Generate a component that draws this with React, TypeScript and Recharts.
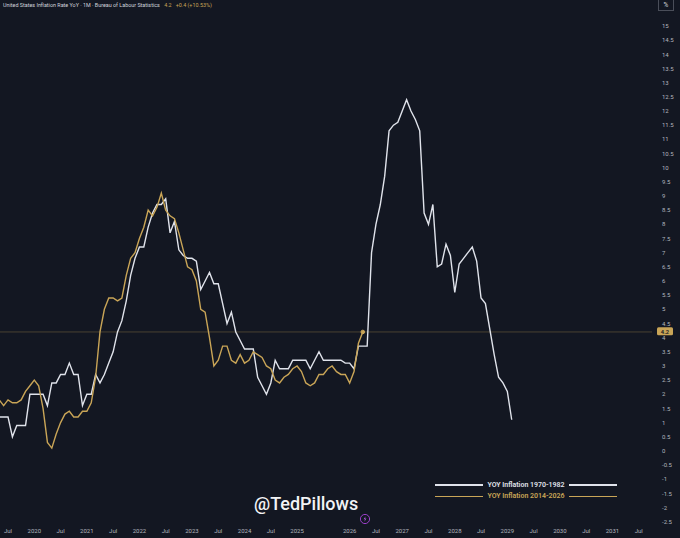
import React from 'react';
import { LineChart, Line, XAxis, YAxis, ReferenceLine, Legend } from 'recharts';

// months counted from Jul 2019 (0 = Jul 2019)
const firstMonth = -2;

const inflation1970to1982 = [
  1.2, 1.2, 1.2, 0.5, 0.9, 0.9, 0.9, 2.0, 2.0, 2.0, 2.0, 1.6,
  2.4, 2.4, 2.7, 2.7, 3.1, 2.7, 2.7, 1.6, 2.0, 2.0, 2.7, 2.4,
  2.7, 3.1, 3.5, 4.2, 4.6, 5.3, 6.2, 6.8, 7.2, 7.2, 7.9, 8.4,
  8.7, 8.7, 8.9, 7.7, 8.1, 7.1, 6.9, 6.8, 6.8, 6.7, 5.7, 6.0,
  6.3, 5.9, 5.9, 5.2, 4.5, 4.9, 4.2, 3.9, 3.6, 3.6, 3.6, 2.6,
  2.3, 2.0, 2.4, 3.2, 2.9, 2.9, 2.9, 3.2, 3.2, 3.2, 3.2, 2.9,
  3.2, 3.5, 3.2, 3.2, 3.2, 3.2, 3.2, 3.1, 3.1, 2.9, 3.7, 3.7,
  3.7, 7.0, 8.0, 8.7, 9.7, 11.3, 11.5, 11.6, 12.0, 12.4, 12.0, 11.7,
  11.3, 8.4, 8.0, 8.7, 6.5, 6.6, 7.3, 6.9, 5.6, 6.6, 6.8, 7.0,
  7.2, 6.7, 5.4, 5.2, 4.3, 3.4, 2.6, 2.4, 2.1, 1.1,
];

const inflation2014to2026 = [
  1.8, 1.6, 1.8, 1.7, 1.7, 1.8, 2.1, 2.3, 2.5, 2.3, 1.5, 0.3,
  0.1, 0.6, 1.0, 1.3, 1.4, 1.2, 1.2, 1.4, 1.4, 1.7, 2.6, 4.2,
  5.0, 5.4, 5.4, 5.3, 5.4, 6.2, 6.8, 7.0, 7.5, 7.9, 8.5, 8.3,
  8.6, 9.1, 8.5, 8.3, 8.2, 7.7, 7.1, 6.5, 6.4, 6.0, 5.0, 4.9,
  4.0, 3.0, 3.2, 3.7, 3.7, 3.2, 3.1, 3.4, 3.1, 3.2, 3.5, 3.4,
  3.3, 3.0, 2.9, 2.5, 2.4, 2.6, 2.7, 2.9, 3.0, 2.8, 2.4, 2.3,
  2.4, 2.7, 2.7, 2.9, 3.0, 2.8, 2.7, 2.7, 2.4, 2.8, 3.8, 4.2,
];

const xTicks = [0, 6, 12, 18, 24, 30, 36, 42, 48, 54, 60, 66, 78, 84, 90, 96, 102, 108, 114, 120, 126, 132, 138, 144];
const xTickLabels = ['Jul', '2020', 'Jul', '2021', 'Jul', '2022', 'Jul', '2023', 'Jul', '2024', 'Jul', '2025',
  '2026', 'Jul', '2027', 'Jul', '2028', 'Jul', '2029', 'Jul', '2030', 'Jul', '2031', 'Jul'];

const yTicks = [-2.5, -2, -1.5, -1, -0.5, 0, 0.5, 1, 1.5, 2, 2.5, 3, 3.5, 4, 4.5, 5, 5.5, 6, 6.5, 7, 7.5, 8,
  8.5, 9, 9.5, 10, 10.5, 11, 11.5, 12, 12.5, 13, 13.5, 14, 14.5, 15];

const lastValue = 4.2;

const data = inflation1970to1982.map((v, i) => ({
  t: firstMonth + i,
  old: v,
  recent: i < inflation2014to2026.length ? inflation2014to2026[i] : undefined,
}));

const BG = '#131722';
const WHITE = '#e0e3eb';
const GOLD = '#c9a557';
const FONT = 'Roboto, "Noto Sans", sans-serif';

const PriceTag = (props: any) => {
  const { viewBox } = props;
  if (!viewBox) return null;
  const x = viewBox.x + viewBox.width + 5;
  const y = viewBox.y;
  return (
    <g>
      <rect x={x} y={y - 4.6} width={16} height={8} rx={1.5} fill={GOLD} />
      <text x={x + 8} y={y + 1.6} textAnchor="middle" fontSize={5.8} fontWeight={600} fill={BG} fontFamily={FONT}>
        {lastValue}
      </text>
    </g>
  );
};

const LegendRows = (props: any) => {
  const items = props.payload || [];
  return (
    <div style={{ fontFamily: FONT }}>
      {items.map((item: any) => (
        <div key={item.value} style={{ display: 'flex', alignItems: 'center', height: 11.5 }}>
          <div style={{ flex: 1, height: 1.5, background: item.color }} />
          <span style={{ color: item.color, fontSize: 7, fontWeight: 600, padding: '0 4px', whiteSpace: 'nowrap' }}>
            {item.value}
          </span>
          <div style={{ flex: 1, height: 1.5, background: item.color }} />
        </div>
      ))}
    </div>
  );
};

const EndDot = (props: any) => {
  const { cx, cy, index } = props;
  if (index !== inflation2014to2026.length - 1) return <g key={`d${index}`} />;
  return <circle key={`d${index}`} cx={cx} cy={cy} r={1.8} fill={GOLD} stroke={GOLD} />;
};

export default function App() {
  return (
    <div style={{ position: 'fixed', left: 0, top: 0, width: 680, height: 538, background: BG, overflow: 'hidden', fontFamily: FONT }}>
      <div style={{ position: 'absolute', left: 3, top: 2, fontSize: 5.4, color: '#d1d4dc', whiteSpace: 'nowrap', zIndex: 2 }}>
        United States Inflation Rate YoY · 1M · Bureau of Labour Statistics{' '}
        <span style={{ color: GOLD, marginLeft: 3 }}>4.2</span>
        <span style={{ color: GOLD, marginLeft: 4 }}>+0.4 (+10.53%)</span>
      </div>
      <LineChart width={680} height={538} data={data} margin={{ top: 0, right: 0, bottom: 0, left: 0 }}>
        <XAxis
          dataKey="t"
          type="number"
          domain={[-1.83, 147.03]}
          allowDataOverflow
          ticks={xTicks}
          interval={0}
          tickFormatter={(v: number) => xTickLabels[xTicks.indexOf(v)]}
          axisLine={false}
          tickLine={false}
          tickSize={0}
          tickMargin={5}
          height={14}
          tick={{ fill: '#b2b5be', fontSize: 6, fontFamily: FONT }}
        />
        <YAxis
          orientation="right"
          type="number"
          domain={[-2.58, 15.92]}
          allowDataOverflow
          ticks={yTicks}
          interval={0}
          axisLine={false}
          tickLine={false}
          tickSize={0}
          tickMargin={10}
          width={28}
          tick={{ fill: '#b2b5be', fontSize: 6, fontFamily: FONT }}
        />
        <ReferenceLine y={lastValue} stroke={GOLD} strokeOpacity={0.3} strokeWidth={1} label={<PriceTag />} />
        <Legend
          content={<LegendRows />}
          layout="horizontal"
          verticalAlign="middle"
          align="center"
          wrapperStyle={{ position: 'absolute', left: 435, top: 479, width: 182, bottom: 'auto' }}
        />
        <Line
          type="linear"
          dataKey="old"
          name="YOY Inflation 1970-1982"
          stroke={WHITE}
          strokeWidth={1.4}
          dot={false}
          isAnimationActive={false}
        />
        <Line
          type="linear"
          dataKey="recent"
          name="YOY Inflation 2014-2026"
          stroke={GOLD}
          strokeWidth={1.4}
          dot={<EndDot />}
          activeDot={false}
          isAnimationActive={false}
        />
      </LineChart>
      <div style={{ position: 'absolute', left: 254, top: 493, fontSize: 18, fontWeight: 500, color: '#f2f3f5', zIndex: 2 }}>
        @TedPillows
      </div>
      <svg style={{ position: 'absolute', left: 359, top: 513 }} width={12} height={12}>
        <circle cx={6} cy={6} r={4.6} fill="none" stroke="#9b3fc9" strokeWidth={1} />
        <path d="M6.6 3.2 L4.6 6.3 L6 6.3 L5.4 8.8 L7.4 5.6 L6 5.6 Z" fill="#b05ae0" />
      </svg>
      <div style={{ position: 'absolute', left: 658, top: 0, width: 16, height: 11, border: '1px solid #4a4e59', borderTop: 'none', boxSizing: 'border-box', background: BG, color: '#d1d4dc', fontSize: 6.5, textAlign: 'center', lineHeight: '10px' }}>
        %
      </div>
    </div>
  );
}
